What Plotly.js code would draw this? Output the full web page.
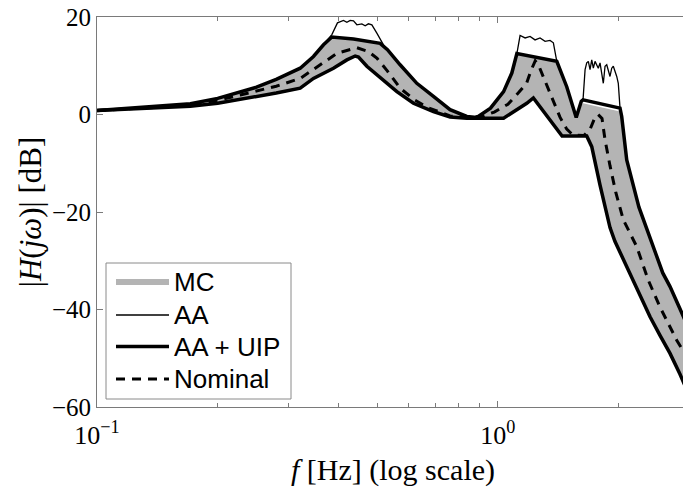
<!DOCTYPE html>
<html>
<head>
<meta charset="utf-8">
<script src="https://cdn.plot.ly/plotly-3.0.1.min.js"></script>
<style>
html,body{margin:0;padding:0;overflow:hidden;background:#fff;}
#chart{width:700px;height:487px;}
</style>
</head>
<body>
<div id="chart"></div>
<script>
// ---------- data (frequency in Hz, magnitude in dB) ----------
const freqUpper = [0.1, 0.13, 0.145, 0.171, 0.2, 0.2277, 0.25, 0.28, 0.3214, 0.3468, 0.3674, 0.3855, 0.4365, 0.5087, 0.5306, 0.5706, 0.6281, 0.691, 0.7603, 0.8369, 0.8862, 0.959, 1.0339, 1.084, 1.116, 1.4036, 1.4862, 1.5693, 1.6158, 1.632, 2.0184, 2.0381, 2.0977, 2.25, 2.398, 2.49, 2.58, 2.69, 2.80, 2.90, 3.0];
const dbUpper   = [0.8, 1.4, 1.7, 2.2, 3.3, 4.6, 5.6, 7.2, 9.5, 11.9, 14.3, 15.9, 15.5, 14.6, 13.3, 10.2, 6.4, 3.7, 1.0, -0.4, -0.6, 1.3, 4.7, 8.5, 12.5, 10.9, 5.7, -0.6, 2.7, 3.0, 1.3, -0.4, -9.3, -19.0, -25.5, -28.8, -32.5, -35.3, -38.5, -41.5, -44.0];

const freqLower = [0.1, 0.13, 0.145, 0.171, 0.2, 0.2277, 0.25, 0.28, 0.3214, 0.3468, 0.389, 0.4202, 0.4408, 0.4492, 0.4713, 0.5087, 0.5601, 0.616, 0.691, 0.7603, 0.8369, 1.0339, 1.116, 1.1812, 1.2269, 1.2745, 1.3494, 1.4305, 1.447, 1.667, 1.7157, 1.7994, 1.87, 1.9055, 1.96, 2.0184, 2.0977, 2.179, 2.2646, 2.398, 2.5395, 2.6901, 2.8492, 3.0];
const dbLower   = [0.8, 1.2, 1.4, 1.7, 2.3, 3.1, 3.6, 4.4, 5.4, 7.4, 9.5, 11.2, 12.0, 11.8, 9.9, 7.5, 4.7, 2.3, 0.6, -0.5, -0.75, -0.75, 1.0, 2.3, 3.4, 1.6, -1.1, -3.8, -4.4, -4.4, -6.6, -14.5, -20.5, -23.2, -26.0, -28.3, -31.0, -34.3, -37.4, -41.5, -45.3, -49.0, -53.3, -57.5];

const freqMCUpper = [0.1, 0.13, 0.145, 0.171, 0.2, 0.2277, 0.25, 0.28, 0.3214, 0.3468, 0.3674, 0.3855, 0.4365, 0.5087, 0.5306, 0.5706, 0.6281, 0.691, 0.7603, 0.8369, 0.8862, 0.959, 1.0339, 1.084, 1.116, 1.4036, 1.4862, 1.5693, 1.6158, 1.632, 2.0184, 2.0381, 2.0977, 2.25, 2.398, 2.49, 2.58, 2.69, 2.80, 2.90, 3.0];
const dbMCUpper   = [0.8, 1.4, 1.7, 2.2, 3.3, 4.6, 5.6, 7.2, 9.5, 11.9, 14.3, 15.9, 15.5, 14.6, 13.3, 10.2, 6.4, 3.7, 1.0, -0.4, -0.6, 1.3, 4.7, 8.5, 12.5, 10.9, 5.7, -0.6, 2.1, 2.3, 0.6, -1.0, -9.3, -19.0, -25.5, -28.8, -32.5, -35.3, -38.5, -41.5, -44.0];
const freqMCLower = freqLower;
const dbMCLower   = dbLower;

const freqAA = [0.1, 0.13, 0.145, 0.171, 0.2, 0.2277, 0.25, 0.28, 0.3214, 0.3468, 0.3674, 0.3855, 0.3981, 0.4043, 0.4121, 0.4202, 0.4283, 0.4365, 0.4451, 0.458, 0.4668, 0.4756, 0.4851, 0.4992, 0.5185, 0.5306, 0.5706, 0.6281, 0.691, 0.7603, 0.8369, 0.8862, 0.959, 1.0339, 1.084, 1.116, 1.1366, 1.1701, 1.2038, 1.2388, 1.2749, 1.3122, 1.3503, 1.3763, 1.4036, 1.4862, 1.5693, 1.6158, 1.632, 1.6513, 1.667, 1.6824, 1.6991, 1.7157, 1.7316, 1.7484, 1.7816, 1.7994, 1.8337, 1.852, 1.87, 1.9055, 1.9244, 1.9422, 1.9807, 1.9984, 2.0184, 2.0381, 2.0977, 2.25, 2.398, 2.49, 2.58, 2.69, 2.80, 2.90, 3.0];
const dbAA   = [0.8, 1.4, 1.7, 2.2, 3.3, 4.6, 5.6, 7.2, 9.5, 11.9, 14.3, 16.4, 18.8, 19.1, 19.3, 18.9, 19.3, 19.2, 18.4, 18.6, 18.2, 18.6, 18.4, 16.7, 14.3, 13.3, 10.2, 6.4, 3.7, 1.0, -0.4, -0.6, 1.3, 4.7, 8.5, 12.5, 16.2, 15.7, 16.0, 15.3, 15.7, 15.0, 15.2, 14.7, 10.9, 5.7, -0.6, 2.7, 3.0, 9.2, 10.6, 10.9, 9.2, 11.2, 9.5, 10.9, 9.5, 10.6, 6.4, 9.9, 10.2, 7.8, 9.5, 9.9, 7.8, 6.4, 1.3, -0.4, -9.3, -19.0, -25.5, -28.8, -32.5, -35.3, -38.5, -41.5, -44.0];

const freqNominal = [0.1, 0.13, 0.145, 0.171, 0.2, 0.2277, 0.25, 0.28, 0.3214, 0.3605, 0.3981, 0.4451, 0.4756, 0.5, 0.5306, 0.5706, 0.62, 0.67, 0.7603, 0.8369, 0.92, 0.98, 1.06, 1.13, 1.18, 1.21, 1.24, 1.2626, 1.2876, 1.325, 1.3763, 1.4305, 1.4862, 1.54, 1.64, 1.70, 1.74, 1.78, 1.82, 1.852, 1.9055, 1.97, 2.057, 2.2217, 2.3749, 2.5395, 2.7957, 3.0];
const dbNominal   = [0.8, 1.3, 1.55, 2.0, 2.9, 4.0, 4.8, 5.8, 7.4, 10.1, 12.6, 13.7, 12.9, 11.5, 8.9, 5.4, 3.0, 1.4, -0.3, -0.6, -0.3, 0.5, 2.1, 4.6, 6.4, 9.0, 11.0, 10.2, 8.5, 5.7, 2.8, -0.6, -3.0, -4.2, -4.3, -3.0, -1.0, 0.0, -0.8, -5.2, -10.5, -16.0, -21.6, -27.1, -34.0, -39.5, -46.3, -50.5];

const seriesNames = ['MC', 'AA', 'AA + UIP', 'Nominal'];
const xTickVals = [0.1, 1];
const xTickText = ['10<sup>\u22121</sup>', '10<sup>0</sup>'];
const xMinorVals = [0.2, 0.3, 0.4, 0.5, 0.6, 0.7, 0.8, 0.9, 2, 3];
const yTickVals = [-60, -40, -20, 0, 20];

// ---------- styles ----------
const GRAY = '#b4b4b4';
const AXC = '#7a7a7a';
const serif = 'Liberation Serif, Times New Roman, serif';
const sans = 'Liberation Sans, Arial, sans-serif';

const traces = [
  {x: freqMCLower, y: dbMCLower, mode: 'lines', line: {width: 0, color: GRAY}, showlegend: false, hoverinfo: 'skip'},
  {x: freqMCUpper, y: dbMCUpper, mode: 'lines', fill: 'tonexty', fillcolor: GRAY, line: {width: 0, color: GRAY}, name: seriesNames[0], showlegend: false, hoverinfo: 'skip'},
  {x: freqAA, y: dbAA, mode: 'lines', line: {width: 1.3, color: '#000'}, name: seriesNames[1], showlegend: false, hoverinfo: 'skip'},
  {x: freqUpper, y: dbUpper, mode: 'lines', line: {width: 3.5, color: '#000'}, name: seriesNames[2], showlegend: false, hoverinfo: 'skip'},
  {x: freqLower, y: dbLower, mode: 'lines', line: {width: 3.5, color: '#000'}, showlegend: false, hoverinfo: 'skip'},
  {x: freqNominal, y: dbNominal, mode: 'lines', line: {width: 3, color: '#000', dash: '9px,7px'}, name: seriesNames[3], showlegend: false, hoverinfo: 'skip'}
];

// plot-area geometry (pixels) for the hand-made legend box
const M = {l: 97, r: 11, t: 17, b: 80};
const W = 700, H = 487;
const PW = W - M.l - M.r, PH = H - M.t - M.b;
const px = p => (p - M.l) / PW;
const py = p => (M.t + PH - p) / PH;

const legendRows = [282, 315, 346.5, 379];
const legendStyles = [
  {color: GRAY, width: 6, dash: 'solid'},
  {color: '#000', width: 1.3, dash: 'solid'},
  {color: '#000', width: 3.5, dash: 'solid'},
  {color: '#000', width: 3, dash: '9px,7px'}
];

const shapes = [{
  type: 'rect', xref: 'paper', yref: 'paper',
  x0: px(106), x1: px(291), y0: py(399), y1: py(263),
  line: {color: '#8a8a8a', width: 1}, fillcolor: '#fff', layer: 'above'
}];
const annotations = [];
legendRows.forEach((r, i) => {
  shapes.push({type: 'line', xref: 'paper', yref: 'paper', x0: px(116), x1: px(169), y0: py(r), y1: py(r), line: legendStyles[i], layer: 'above'});
  annotations.push({xref: 'paper', yref: 'paper', x: px(172), y: py(r), xanchor: 'left', yanchor: 'middle', showarrow: false, text: seriesNames[i], font: {family: sans, size: 26, color: '#000'}});
});

const layout = {
  width: W, height: H,
  margin: M,
  paper_bgcolor: '#fff', plot_bgcolor: '#fff',
  showlegend: false,
  xaxis: {
    type: 'log', range: [-1, Math.log10(3)],
    tickmode: 'array', tickvals: xTickVals, ticktext: xTickText,
    ticks: 'inside', ticklen: 6, tickcolor: AXC, tickwidth: 1,
    ticklabelstandoff: 5,
    minor: {tickmode: 'array', tickvals: xMinorVals, ticks: 'inside', ticklen: 4, tickcolor: AXC, tickwidth: 1, showgrid: false},
    showline: true, linecolor: AXC, linewidth: 1, mirror: 'ticks',
    showgrid: false, zeroline: false, automargin: false,
    tickfont: {family: serif, size: 26, color: '#000'},
    title: {text: '<i>f</i> [Hz] (log scale)', font: {family: serif, size: 30, color: '#000'}, standoff: 12}
  },
  yaxis: {
    range: [-60, 20], tickmode: 'array', tickvals: yTickVals,
    ticks: 'inside', ticklen: 6, tickcolor: AXC, tickwidth: 1,
    showline: true, linecolor: AXC, linewidth: 1, mirror: 'ticks',
    showgrid: false, zeroline: false, automargin: false,
    tickfont: {family: serif, size: 25, color: '#000'},
    title: {text: '|<i>H</i>(<i>j\u03c9</i>)| [dB]', font: {family: serif, size: 31, color: '#000'}, standoff: 1}
  },
  shapes: shapes,
  annotations: annotations
};

Plotly.newPlot('chart', traces, layout, {displayModeBar: false, staticPlot: true});
</script>
</body>
</html>
